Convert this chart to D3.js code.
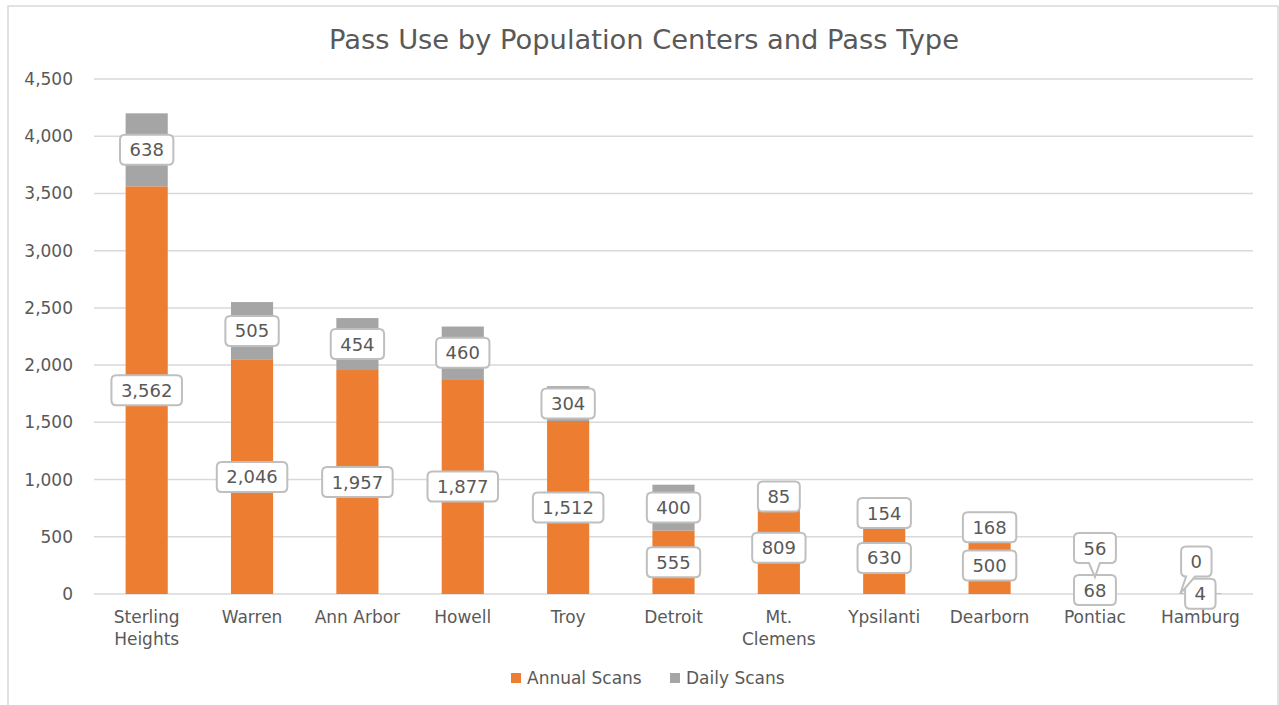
<!DOCTYPE html>
<html><head><meta charset="utf-8">
<script src="https://cdn.jsdelivr.net/npm/d3@7"></script>
<style>
body{margin:0;background:#fff;}
text{font-family:"DejaVu Sans",Verdana,sans-serif;fill:#595959;}
</style></head>
<body><svg id="chart" width="1279" height="705"></svg>
<script>
const categories = ["Sterling Heights","Warren","Ann Arbor","Howell","Troy","Detroit","Mt. Clemens","Ypsilanti","Dearborn","Pontiac","Hamburg"];
const annualScans = [3562,2046,1957,1877,1512,555,809,630,500,68,4];
const dailyScans = [638,505,454,460,304,400,85,154,168,56,0];
const seriesNames = ["Annual Scans","Daily Scans"];
const yTicks = [0,500,1000,1500,2000,2500,3000,3500,4000,4500];
const title = "Pass Use by Population Centers and Pass Type";

const colors = ["#ED7D31","#A5A5A5"];
// label callout placement for tiny segments (layout, not data)
const callouts = {"Pontiac|1":{dx:0,dy:-35,tipDx:0,tipDy:-6},"Hamburg|1":{dx:-4,dy:-32,tipDx:-20,tipDy:0}};

const svg = d3.select("#chart");
svg.append("rect").attr("x",8).attr("y",6).attr("width",1270).attr("height",720)
  .attr("fill","#fff").attr("stroke","#d9d9d9").attr("stroke-width",1.5);

const x = d3.scaleBand().domain(categories).range([94,1253]).paddingInner(0.6).paddingOuter(0.3);
const y = d3.scaleLinear().domain([0,4500]).range([594,79]);

svg.append("text").attr("x",644).attr("y",49).attr("text-anchor","middle")
  .style("font-size","26px").attr("textLength",630).attr("lengthAdjust","spacingAndGlyphs").text(title);

// gridlines
svg.append("g").selectAll("line").data(yTicks).join("line")
  .attr("x1",94).attr("x2",1253).attr("y1",d=>y(d)).attr("y2",d=>y(d))
  .attr("stroke","#d9d9d9").attr("stroke-width",1.5);

// y axis labels
const yAxis = d3.axisLeft(y).tickValues(yTicks).tickFormat(d3.format(",")).tickSize(0).tickPadding(0);
const yg = svg.append("g").attr("transform","translate(73,0)").call(yAxis);
yg.select(".domain").remove();
yg.selectAll("text").style("font-size","17px").attr("fill","#595959").attr("font-family","DejaVu Sans");

// stacked data
const rows = categories.map((c,i)=>({cat:c, annual:annualScans[i], daily:dailyScans[i]}));
const stack = d3.stack().keys(["annual","daily"])(rows);

stack.forEach((layer,li)=>{
  svg.append("g").selectAll("rect").data(layer).join("rect")
    .attr("x",d=>x(d.data.cat)).attr("width",x.bandwidth())
    .attr("y",d=>y(d[1])).attr("height",d=>y(d[0])-y(d[1]))
    .attr("fill",colors[li]);
});

// category labels
const xg = svg.append("g");
categories.forEach(c=>{
  const words = c.split(" ");
  let lines = [c];
  if (c==="Sterling Heights"||c==="Mt. Clemens") lines = words;
  const t = xg.append("text").attr("x",x(c)+x.bandwidth()/2).attr("y",623).attr("text-anchor","middle").style("font-size","17px");
  lines.forEach((l,k)=>t.append("tspan").attr("x",x(c)+x.bandwidth()/2).attr("dy",k?22:0).text(l));
});

// data labels
const fmt = d3.format(",");
const lg = svg.append("g");
function roundRectPath(x0,y0,w,h,r,tail){
  let p = `M${x0+r},${y0} H${x0+w-r} Q${x0+w},${y0} ${x0+w},${y0+r} V${y0+h-r} Q${x0+w},${y0+h} ${x0+w-r},${y0+h}`;
  if(tail){
    p += ` H${tail.b2} L${tail.tx},${tail.ty} L${tail.b1},${y0+h}`;
  }
  p += ` H${x0+r} Q${x0},${y0+h} ${x0},${y0+h-r} V${y0+r} Q${x0},${y0} ${x0+r},${y0} Z`;
  return p;
}
stack.forEach((layer,li)=>{
  layer.forEach(d=>{
    const val = d.data[li?"daily":"annual"];
    const cx0 = x(d.data.cat)+x.bandwidth()/2;
    const cy0 = (y(d[0])+y(d[1]))/2;
    const co = callouts[d.data.cat+"|"+li];
    const cx = cx0 + (co?co.dx:0), cy = cy0 + (co?co.dy:0);
    const g = lg.append("g");
    const t = g.append("text").attr("x",cx).attr("y",cy).attr("text-anchor","middle")
      .attr("dominant-baseline","central").style("font-size","18px").text(fmt(val));
    const tw = t.node().getComputedTextLength();
    const w = Math.max(tw+19, 28), h = 30;
    const x0 = cx-w/2, y0 = cy-h/2;
    let tail = null;
    if(co){
      const tx = cx0+co.tipDx, ty = cy0+co.tipDy;
      if(co.tipDx<0){ tail = {b1:x0+5,b2:x0+14,tx,ty}; }
      else { tail = {b1:cx-6,b2:cx+5,tx,ty}; }
    }
    g.insert("path","text").attr("d",roundRectPath(x0,y0,w,h,5,tail))
      .attr("fill","#fff").attr("stroke","#bfbfbf").attr("stroke-width",2);
  });
});

// legend
const leg = svg.append("g");
const legItems = [{x:511},{x:670}];
seriesNames.forEach((n,i)=>{
  leg.append("rect").attr("x",legItems[i].x).attr("y",673).attr("width",10).attr("height",10).attr("fill",colors[i]);
  leg.append("text").attr("x",legItems[i].x+16).attr("y",678).attr("dominant-baseline","central").style("font-size","17px").text(n);
});
</script></body></html>
